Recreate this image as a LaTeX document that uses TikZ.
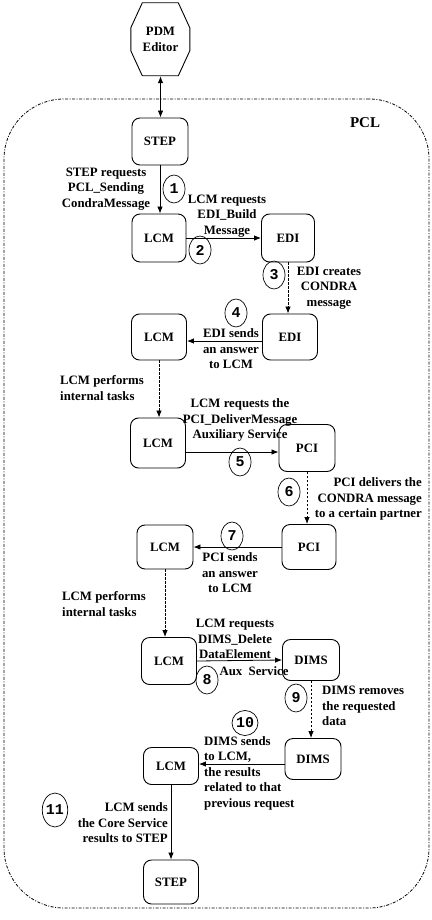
\documentclass[tikz,border=0pt]{standalone}
\usepackage{fontspec}
\setmainfont{Liberation Serif}
\newfontfamily\numfont{Liberation Mono}
\usetikzlibrary{arrows.meta,shapes.geometric}
\begin{document}
\begin{tikzpicture}[x=1pt,y=-1pt,
  every node/.style={font=\fontsize{12.8}{15.5}\selectfont\bfseries, inner sep=0pt},
  box/.style={draw, rounded corners=8pt, line width=0.9pt},
  frame/.style={draw, rounded corners=60pt, line width=0.8pt, dash pattern=on 3pt off 1.5pt on 1pt off 1.5pt, minimum width=425pt, minimum height=809pt},
  num/.style={draw, ellipse, line width=0.7pt, minimum width=22pt, minimum height=28pt, font=\fontsize{15}{15}\selectfont\numfont\bfseries},
  note/.style={align=center},
  arr/.style={line width=0.8pt, -{Latex[length=7pt,width=5.5pt]}},
  darr/.style={arr, dash pattern=on 2.5pt off 1.5pt}
]
\useasboundingbox (0,0) rectangle (431,920);
% container
\node[frame] (pcl) at (216.5,503.5) {};
\node (pcllabel) at (365,123) {\fontsize{15}{16}\selectfont PCL};
% PDM editor octagon
\node[minimum width=59pt, minimum height=73pt, align=center] (pdm) at (160.5,39.5) {PDM\\Editor};
\draw[line width=0.9pt] (pdm.north west) ++(11.5,0) -- ++(36,0) -- ++(11.5,25) -- ++(0,23) -- ++(-11.5,25) -- ++(-36,0) -- ++(-11.5,-25) -- ++(0,-23) -- cycle;
% boxes
\node[box, minimum width=56pt, minimum height=47pt] (step1) at (160,141.5) {STEP};
\node[box, minimum width=54pt, minimum height=48pt] (lcm1) at (159,238) {LCM};
\node[box, minimum width=53pt, minimum height=48pt] (edi1) at (288,238) {EDI};
\node[box, minimum width=55pt, minimum height=46pt] (edi2) at (290,337) {EDI};
\node[box, minimum width=55pt, minimum height=46pt] (lcm2) at (159,337) {LCM};
\node[box, minimum width=55pt, minimum height=50pt] (lcm3) at (158,443) {LCM};
\node[box, minimum width=56pt, minimum height=47pt] (pci1) at (307,448) {PCI};
\node[box, minimum width=54pt, minimum height=45pt] (pci2) at (309,547) {PCI};
\node[box, minimum width=56pt, minimum height=44pt] (lcm4) at (165,547) {LCM};
\node[box, minimum width=55pt, minimum height=47pt] (lcm5) at (169,661) {LCM};
\node[box, minimum width=57pt, minimum height=41pt] (dims1) at (311,660) {DIMS};
\node[box, minimum width=56pt, minimum height=41pt] (dims2) at (313,759) {DIMS};
\node[box, minimum width=55pt, minimum height=37pt] (lcm6) at (171,766) {LCM};
\node[box, minimum width=55pt, minimum height=44pt] (step2) at (171,882) {STEP};
% connectors
\draw[line width=0.8pt, {Latex[length=7pt,width=5.5pt]}-{Latex[length=7pt,width=5.5pt]}] (pdm.south) -- (pdm.south |- step1.north);
\draw[arr] (step1.south) -- (step1.south |- lcm1.north);
\draw[arr] (lcm1.east) -- (edi1.west);
\draw[darr] (edi1.south) -- (edi1.south |- edi2.north);
\draw[arr] ([yshift=-4pt]edi2.west) -- ([yshift=-4pt]lcm2.east);
\draw[darr] (lcm2.south) -- (lcm2.south |- lcm3.north);
\draw[arr] ([yshift=-9pt]lcm3.east) -- ([yshift=-4pt]pci1.west);
\draw[darr] (pci1.south) -- (pci1.south |- pci2.north);
\draw[arr] (pci2.west) -- (lcm4.east);
\draw[darr] (lcm4.south) -- (lcm4.south |- lcm5.north);
\draw[arr] (lcm5.east) -- (dims1.west);
\draw[darr] (dims1.south) -- (dims1.south |- dims2.north);
\draw[arr] ([yshift=-5pt]dims2.west) -- ([yshift=2pt]lcm6.east);
\draw[arr] (lcm6.south) -- (lcm6.south |- step2.north);
% numbers
\node[num] (n1) at (174,189) {1};
\node[num] (n2) at (200,250) {2};
\node[num] (n3) at (274,275) {3};
\node[num] (n4) at (236,313) {4};
\node[num] (n5) at (240,462) {5};
\node[num] (n6) at (289,492) {6};
\node[num] (n7) at (232,536) {7};
\node[num] (n8) at (207,680) {8};
\node[num] (n9) at (296,698) {9};
\node[num, minimum width=26pt, minimum height=25pt] (n10) at (245,723) {10};
\node[num, minimum width=25pt, minimum height=34pt] (n11) at (55,810) {11};
% notes
\node[note] (t1) at (106,189) {STEP requests\\PCL\_Sending\\CondraMessage};
\node[note] (t2) at (227,216) {LCM requests\\EDI\_Build\\Message};
\node[note] (t3) at (329,288) {EDI creates\\CONDRA\\message};
\node[note] (t4) at (231,349) {EDI sends\\an answer\\to LCM};
\node[align=left, anchor=west] (t5) at (60,388) {LCM performs\\internal tasks};
\node[note] (t6) at (240,420) {LCM requests the\\PCI\_DeliverMessage\\Auxiliary Service};
\node[align=right, anchor=east] (t7) at (422,499) {PCI delivers the\\CONDRA message\\to a certain partner};
\node[note] (t8) at (230,573) {PCI sends\\an answer\\to LCM};
\node[align=left, anchor=west] (t9) at (62,604) {LCM performs\\internal tasks};
\node[note] (t10) at (235,639) {LCM requests\\DIMS\_Delete\\DataElement};
\node (t10b) at (254,671) {Aux\ \ Service};
\node[align=left, anchor=west] (t11) at (322,706) {DIMS removes\\the requested\\data};
\node[align=left, anchor=west] (t12) at (204,773) {DIMS sends\\to LCM,\\the results\\related to that\\previous request};
\node[align=right, anchor=east] (t13) at (168,823) {LCM sends\\the Core Service\\results to STEP};
\end{tikzpicture}
\end{document}
